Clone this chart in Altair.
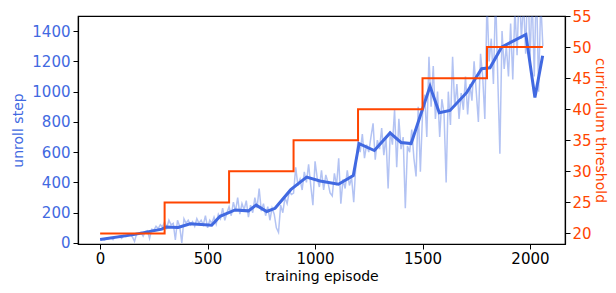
import altair as alt
import pandas as pd

# raw unroll steps, every 10 episodes from 0 to 2060
raw_episode = list(range(0, 2070, 10))
raw_unroll = [
    # 0-290
    20, 25, 18, 30, 28, 35, 22, 40, 38, 45, 30, 50, 42, 48, 55, 40, 10, 62, 58, 70,
    45, 75, 80, 30, 90, 85, 110, 95, 120, 105,
    # 300-590
    140, 100, 150, 120, 130, 20, 150, 110, 0, 160, 130, 150, 120, 140, 110, 160, 130, 150, 120, 180,
    100, 150, 130, 170, 125, 190, 160, 230, 150, 200,
    # 600-890
    240, 180, 270, 210, 300, 190, 260, 220, 280, 170, 250, 200, 300, 230, 360, 210, 260, 180, 240, 150,
    230, 190, 100, 70, 250, 200, 300, 260, 340, 320,
    # 900-1190
    330, 500, 380, 420, 350, 470, 400, 520, 380, 250, 540, 430, 370, 480, 350, 450, 400, 330, 310, 460,
    380, 560, 260, 420, 360, 480, 380, 430, 270, 520,
    # 1200-1490
    680, 600, 720, 560, 650, 600, 700, 790, 550, 680, 620, 760, 580, 700, 360, 740, 650, 880, 500, 820,
    620, 700, 230, 640, 600, 750, 560, 440, 900, 470,
    # 1500-1790
    850, 980, 700, 1230, 900, 1170, 820, 1000, 700, 950, 860, 400, 1000, 780, 1230, 900, 1050, 820, 990, 880,
    1100, 850, 1050, 940, 1200, 1000, 800, 1250, 1100, 820,
    # 1800-2060
    1600, 1200, 1350, 1050, 1650, 1100, 590, 1400, 1150, 1300, 1100, 1450, 1080, 1550, 1240, 1700, 1350, 1600, 1250, 1800,
    1200, 1650, 1100, 1750, 1000, 1600, 1300,
]

smooth_episode = [0, 155, 287, 307, 363, 419, 519, 558, 628, 690, 726, 775, 814, 887, 961, 1023,
                  1109, 1178, 1205, 1276, 1349, 1400, 1447, 1535, 1578, 1628, 1705, 1775, 1814,
                  1868, 1981, 2023, 2059]
smooth_unroll = [23, 55, 91, 106, 102, 127, 117, 176, 218, 212, 250, 208, 229, 352, 435, 409,
                 388, 445, 657, 611, 727, 664, 657, 1035, 861, 876, 993, 1152, 1158,
                 1294, 1378, 961, 1237]

thr_episode = [0, 300, 600, 900, 1200, 1500, 1800, 2060]
thr_value = [20, 25, 30, 35, 40, 45, 50, 50]

x_ticks = [0, 500, 1000, 1500, 2000]
left_ticks = [0, 200, 400, 600, 800, 1000, 1200, 1400]
right_ticks = [20, 25, 30, 35, 40, 45, 50, 55]

BLUE = "#4169E1"
ORANGE = "#FF4500"

df_raw = pd.DataFrame({"episode": raw_episode, "unroll": raw_unroll})
df_smooth = pd.DataFrame({"episode": smooth_episode, "unroll": smooth_unroll})
df_thr = pd.DataFrame({"episode": thr_episode, "threshold": thr_value})

x_enc = alt.X(
    "episode:Q",
    scale=alt.Scale(domain=[-103, 2163], nice=False, zero=False),
    axis=alt.Axis(values=x_ticks, title="training episode", labelColor="black",
                  titleColor="black", format="d", titlePadding=3, labelPadding=2),
)

y_left_scale = alt.Scale(domain=[-7, 1500], nice=False, zero=False)
y_left_axis = alt.Axis(values=left_ticks, title="unroll step", orient="left",
                       labelColor=BLUE, titleColor=BLUE, format="d", titlePadding=6)

raw_line = alt.Chart(df_raw).mark_line(color=BLUE, opacity=0.4, strokeWidth=1.5, clip=True).encode(
    x=x_enc,
    y=alt.Y("unroll:Q", scale=y_left_scale, axis=y_left_axis),
)
smooth_line = alt.Chart(df_smooth).mark_line(color=BLUE, strokeWidth=3, clip=True).encode(
    x=x_enc,
    y=alt.Y("unroll:Q", scale=y_left_scale, axis=y_left_axis),
)
left = alt.layer(raw_line, smooth_line)

thr_line = alt.Chart(df_thr).mark_line(color=ORANGE, strokeWidth=2, interpolate="step-after").encode(
    x=x_enc,
    y=alt.Y("threshold:Q", scale=alt.Scale(domain=[18.3, 55], nice=False, zero=False),
            axis=alt.Axis(values=right_ticks, title="curriculum threshold", orient="right",
                          labelColor=ORANGE, titleColor=ORANGE, format="d",
                          titlePadding=1, labelPadding=2)),
)

chart = alt.layer(left, thr_line).resolve_scale(y="independent").properties(
    width=487,
    height=228,
    autosize=alt.AutoSizeParams(type="none"),
    padding={"left": 70, "top": 8, "right": 43, "bottom": 41},
).configure_view(
    stroke="black", strokeWidth=1.2
).configure_axis(
    grid=False,
    domainColor="black",
    domainWidth=1.2,
    tickColor="black",
    tickSize=5,
    tickWidth=1,
    labelPadding=3,
    labelFont="DejaVu Sans",
    titleFont="DejaVu Sans",
    labelFontSize=15,
    titleFontSize=14,
    titleFontWeight="normal",
)

chart.save("out.html", embed_options={"renderer": "svg", "actions": False})
